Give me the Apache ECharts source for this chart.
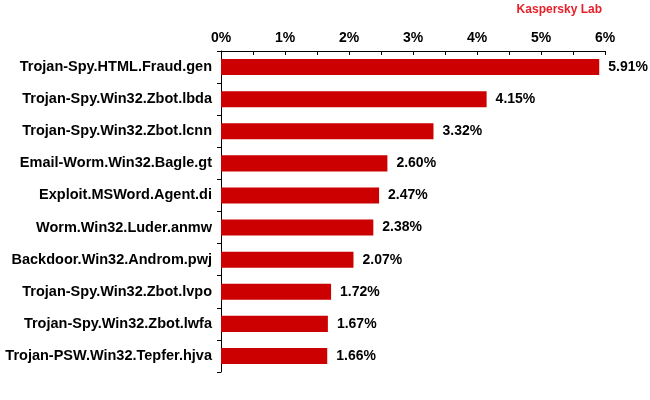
<!DOCTYPE html>
<html>
<head>
<meta charset="utf-8">
<script src="https://cdn.jsdelivr.net/npm/echarts@6/dist/echarts.min.js"></script>
<style>
  html, body { margin: 0; padding: 0; background: #fff; }
  #chart { width: 650px; height: 400px; }
</style>
</head>
<body>
<div id="chart"></div>
<script>
var categories = [
  'Trojan-Spy.HTML.Fraud.gen',
  'Trojan-Spy.Win32.Zbot.lbda',
  'Trojan-Spy.Win32.Zbot.lcnn',
  'Email-Worm.Win32.Bagle.gt',
  'Exploit.MSWord.Agent.di',
  'Worm.Win32.Luder.anmw',
  'Backdoor.Win32.Androm.pwj',
  'Trojan-Spy.Win32.Zbot.lvpo',
  'Trojan-Spy.Win32.Zbot.lwfa',
  'Trojan-PSW.Win32.Tepfer.hjva'
];
var shares = [5.91, 4.15, 3.32, 2.60, 2.47, 2.38, 2.07, 1.72, 1.67, 1.66];

var chart = echarts.init(document.getElementById('chart'));

var font = 'Arial, "Liberation Sans", sans-serif';

chart.setOption({
  animation: false,
  title: {
    text: 'Kaspersky Lab',
    right: 43,
    top: -1,
    textStyle: { color: '#e8202a', fontSize: 12, fontWeight: 'bold', fontFamily: font }
  },
  grid: { left: 221, right: 45, top: 51, bottom: 28, containLabel: false },
  xAxis: {
    type: 'value',
    position: 'top',
    min: 0,
    max: 6,
    interval: 0.5,
    splitLine: { show: false },
    axisLine: { show: true, lineStyle: { color: '#000', width: 1 } },
    axisTick: { show: true, inside: true, length: 4, lineStyle: { color: '#000' } },
    axisLabel: {
      color: '#000',
      fontSize: 14,
      fontWeight: 'bold',
      fontFamily: font,
      margin: 6,
      formatter: function (v) { return v % 1 === 0 ? v + '%' : ''; }
    }
  },
  yAxis: {
    type: 'category',
    data: categories,
    inverse: true,
    axisLine: { show: true, lineStyle: { color: '#000', width: 1 } },
    axisTick: { show: true, length: 4, lineStyle: { color: '#000' } },
    axisLabel: {
      color: '#000',
      fontSize: 14.5,
      fontWeight: 'bold',
      fontFamily: font,
      margin: 9
    }
  },
  series: [{
    type: 'bar',
    data: shares,
    barWidth: '50%',
    itemStyle: { color: '#cc0000' },
    label: {
      show: true,
      position: 'right',
      distance: 9,
      color: '#000',
      fontSize: 14,
      fontWeight: 'bold',
      fontFamily: font,
      formatter: function (p) { return p.value.toFixed(2) + '%'; }
    }
  }]
});
</script>
</body>
</html>
